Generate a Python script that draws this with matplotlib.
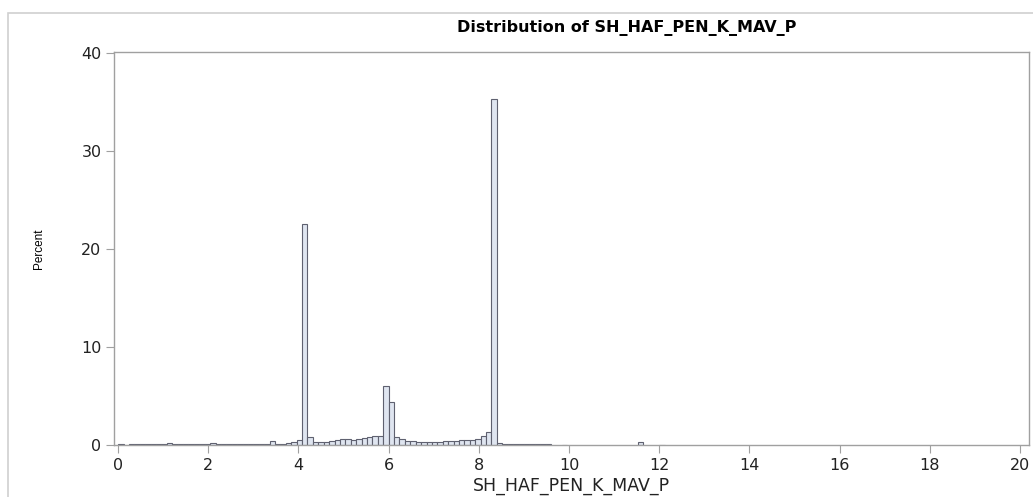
import numpy as np
import matplotlib
matplotlib.use("Agg")
import matplotlib.pyplot as plt
from matplotlib.patches import Rectangle

plt.rcParams['font.family'] = ['DejaVu Sans']

# histogram bins of width 0.12 starting at 0
bin_width = 0.12
pct = [0.1, 0.0, 0.1, 0.1, 0.1, 0.1, 0.1, 0.1, 0.1, 0.2,
       0.1, 0.1, 0.1, 0.15, 0.1, 0.1, 0.1, 0.2, 0.1, 0.1,
       0.1, 0.15, 0.1, 0.1, 0.1, 0.1, 0.1, 0.1, 0.4, 0.1,
       0.15, 0.2, 0.3, 0.5, 22.6, 0.85, 0.35, 0.35, 0.35, 0.4,
       0.5, 0.6, 0.65, 0.55, 0.6, 0.7, 0.85, 0.95, 0.9, 6.0,
       4.4, 0.85, 0.65, 0.45, 0.4, 0.35, 0.35, 0.35, 0.35, 0.35,
       0.45, 0.45, 0.45, 0.5, 0.5, 0.55, 0.6, 0.9, 1.35, 35.3,
       0.25, 0.15, 0.1, 0.1, 0.1, 0.1, 0.1, 0.1, 0.1, 0.1]
# isolated bins further right
extra_left = [9.84, 11.52, 12.0]
extra_pct = [0.05, 0.3, 0.05]

left = list(np.arange(len(pct)) * bin_width) + extra_left
heights = pct + extra_pct

fig = plt.figure(figsize=(10.33, 4.97), dpi=100)
ax = fig.add_axes([0.1104, 0.1046, 0.8857, 0.7908])

ax.bar(left, heights, width=bin_width, align='edge',
       facecolor='#dfe5f0', edgecolor='#5f6170', linewidth=0.8)

ax.set_xlim(-0.09, 20.2)
ax.set_ylim(0, 40.1)
ax.set_xticks(range(0, 21, 2))
ax.set_yticks(range(0, 41, 10))

for s in ax.spines.values():
    s.set_color('#a0a0a0')
    s.set_linewidth(1.0)
ax.tick_params(colors='#a0a0a0', labelcolor='#222222', labelsize=11.5,
               length=6, pad=3)

fig.text(627 / 1033, 1 - 28 / 497, "Distribution of SH_HAF_PEN_K_MAV_P",
         fontsize=11.5, fontweight='bold', ha='center', va='center')
ax.set_xlabel("SH_HAF_PEN_K_MAV_P", fontsize=12.5, labelpad=3, color='#222222')
ax.set_ylabel("Percent", fontsize=8.5, labelpad=26,
              family=['Liberation Sans Narrow', 'Liberation Sans'])

# light outer frame
fig.patches.append(Rectangle((8 / 1033, -0.01), 1.1, 1 - 13 / 497 + 0.01,
                             transform=fig.transFigure, fill=False,
                             edgecolor='#d0d0d0', linewidth=1.2))

fig.savefig("out.png", dpi=100)
